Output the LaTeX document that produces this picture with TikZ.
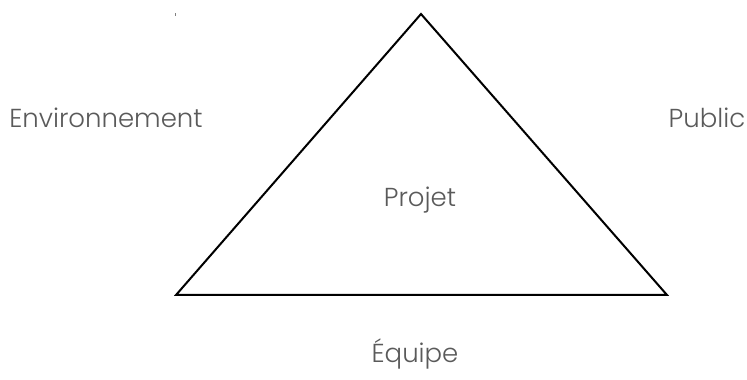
\documentclass[tikz,border=0pt]{standalone}
\usepackage{fontspec}
\setmainfont{Poppins Light}
\definecolor{labelgray}{HTML}{5A5A5A}
\begin{document}
\begin{tikzpicture}[x=1pt,y=1pt,
  lbl/.style={anchor=base,inner sep=0pt,text=labelgray,font=\fontsize{26}{30}\selectfont},
  edge/.style={draw=black,line width=2pt,line join=miter}]
\useasboundingbox (0,0) rectangle (747,380);
\coordinate (top) at (421,366);
\coordinate (bl) at (176,85);
\coordinate (br) at (667,85);
\draw[edge] (top) -- (br) -- (bl) -- cycle;
\node[lbl] (env) at (106,252) {Environnement};
\node[lbl] (pub) at (707,252) {Public};
\node[lbl] (proj) at (420,173) {Projet};
\node[lbl] (eq) at (415,17) {Équipe};
\fill[gray] (175.3,364) rectangle (176.3,366.5);
\end{tikzpicture}
\end{document}
